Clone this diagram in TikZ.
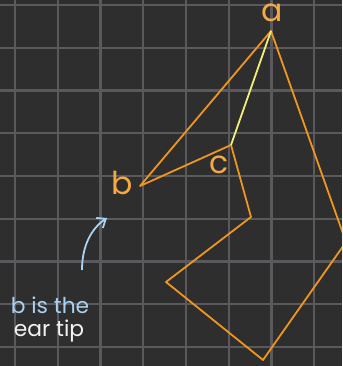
\documentclass[tikz,border=0pt]{standalone}
\usepackage{fontspec}
\setmainfont{Poppins}
\usetikzlibrary{arrows.meta}
\definecolor{board}{HTML}{2E2E2E}
\definecolor{gridln}{HTML}{5A5A5E}
\definecolor{edge}{HTML}{F0961E}
\definecolor{diag}{HTML}{F2EE7A}
\definecolor{lbl}{HTML}{F5A843}
\definecolor{note}{HTML}{A9D2F2}
\definecolor{chalk}{HTML}{F2F2F2}

\begin{document}
\begin{tikzpicture}[x=0.02339cm,y=-0.02339cm,line join=round,
  vert/.style={lbl,font=\fontsize{21}{24}\selectfont},
  remark/.style={font=\fontsize{14.5}{17}\selectfont}]
  \fill[board] (0,0) rectangle (342,366);
  \clip (0,0) rectangle (342,366);
  \foreach \k in {0,...,7} \draw[gridln,line width=1.4pt] ({15+42.75*\k},0)--({15+42.75*\k},366);
  \foreach \k in {0,...,8} \draw[gridln,line width=1.4pt] (0,{5+42.75*\k})--(342,{5+42.75*\k});
  % polygon
  \coordinate (a) at (271,31);
  \coordinate (r) at (346,242);
  \coordinate (s) at (263,360);
  \coordinate (t) at (166,282);
  \coordinate (u) at (251,217);
  \coordinate (c) at (231,145);
  \coordinate (b) at (140,186);
  \draw[edge,line width=1.2pt] (a)--(r)--(s)--(t)--(u)--(c)--(b)--cycle;
  \draw[diag,line width=1.2pt] (a)--(c);
  \node[vert] (la) at (272,13) {a};
  \node[vert] (lb) at (122,183) {b};
  \node[vert] (lc) at (219,165) {c};
  % note
  \node[remark,note] (n1) at (50,305) {b is the};
  \node[remark,chalk] (n2) at (49,331) {ear tip};
  \coordinate (tip) at (107,218);
  \draw[note,line width=1.2pt,-{Straight Barb[length=5pt,width=8pt]}] (82,270) .. controls (82,245) and (92,228) .. (tip);
\end{tikzpicture}
\end{document}
